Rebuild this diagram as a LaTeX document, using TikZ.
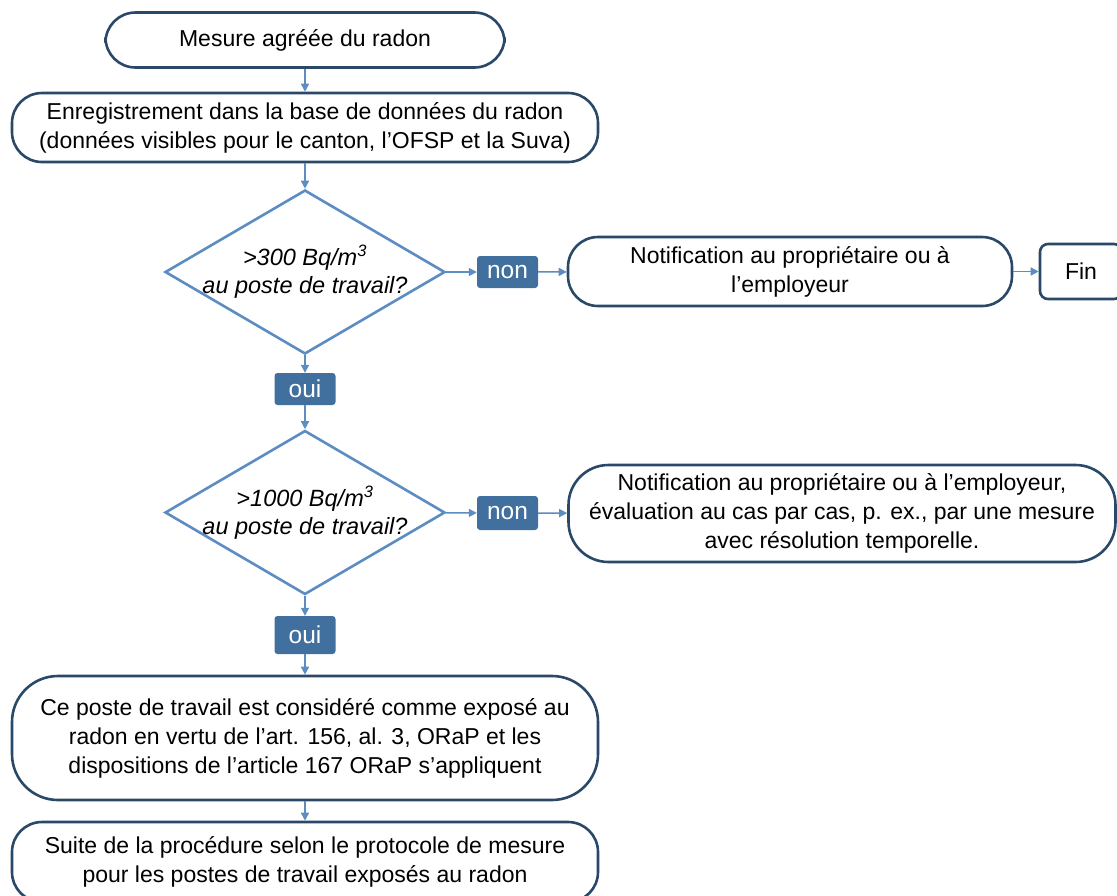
\documentclass[tikz,border=0pt]{standalone}
\usepackage{fontspec}
\setmainfont{Liberation Sans}
\usetikzlibrary{shapes.geometric,arrows.meta}

\definecolor{termline}{HTML}{2A4868}
\definecolor{flowline}{HTML}{5B8CC2}
\definecolor{tagfill}{HTML}{41709E}

\begin{document}
\begin{tikzpicture}[%
x=1pt, y=-1pt,
term/.style={draw=termline, line width=2.6pt, rounded corners=30pt, align=center,
  inner sep=0pt, font=\fontsize{23}{29}\selectfont},
decision/.style={diamond, draw=flowline, line width=2.6pt, aspect=1.71, inner sep=-14pt,
  minimum width=280pt, minimum height=164pt, align=center,
  font=\fontsize{23.5}{28}\selectfont\itshape},
tag/.style={fill=tagfill, text=white, rounded corners=3pt, inner sep=0pt,
  minimum width=61pt, font=\fontsize{24.5}{26}\selectfont},
flow/.style={draw=flowline, line width=1.5pt, -{Triangle[length=8pt,width=8pt]}},
]
\useasboundingbox (0,0) rectangle (1117,895);
%% main column;
\node [term, minimum width=399pt, minimum height=55pt] (mesure) at (305,40) {Mesure agréée du radon};
\node [term, minimum width=586pt, minimum height=69pt] (base) at (305,127.5)
  {Enregistrement dans la base de données du radon\\(données visibles pour le canton, l’OFSP et la Suva)};
\node [decision] (seuil1) at (305,272) {>300 Bq/m\textsuperscript{3}\\au poste de travail?};
\node [tag, minimum height=32pt] (oui1) at (305,389) {oui};
\node [decision] (seuil2) at (305,512.5) {>1000 Bq/m\textsuperscript{3}\\au poste de travail?};
\node [tag, minimum height=38pt] (oui2) at (305,635) {oui};
\node [term, rounded corners=46pt, minimum width=586pt, minimum height=124pt] (expose) at (305,738)
  {Ce poste de travail est considéré comme exposé au\\radon en vertu de l’art. 156, al. 3, ORaP et les\\dispositions de l’article 167 ORaP s’appliquent};
\node [term, minimum width=586pt, minimum height=80pt] (suite) at (305,862)
  {Suite de la procédure selon le protocole de mesure\\pour les postes de travail exposés au radon};
%% branches;
\node [tag, minimum height=32pt] (non1) at (507.5,272) {non};
\node [term, minimum width=444pt, minimum height=69pt] (notif1) at (790,271.5)
  {Notification au propriétaire ou à\\l’employeur};
\node [term, rounded corners=8pt, minimum width=82pt, minimum height=55pt] (fin) at (1081,271.5) {Fin};
\node [tag, minimum height=34pt] (non2) at (507.5,513) {non};
\node [term, rounded corners=40pt, minimum width=547pt, minimum height=97pt] (notif2) at (842,513.5)
  {Notification au propriétaire ou à l’employeur,\\évaluation au cas par cas, p. ex., par une mesure\\avec résolution temporelle.};
%% connectors;
\draw [flow] (mesure) -- (base);
\draw [flow] (base) -- (seuil1);
\draw [flow] (seuil1) -- (oui1);
\draw [flow] (oui1) -- (seuil2);
\draw [flow] (seuil2) -- (oui2);
\draw [flow] (oui2) -- (expose);
\draw [flow] (expose) -- (suite);
\draw [flow] (seuil1) -- (non1);
\draw [flow] (non1) -- (notif1);
\draw [flow] (notif1) -- (fin);
\draw [flow] (seuil2) -- (non2);
\draw [flow] (non2) -- (notif2);
\end{tikzpicture}
\end{document}
